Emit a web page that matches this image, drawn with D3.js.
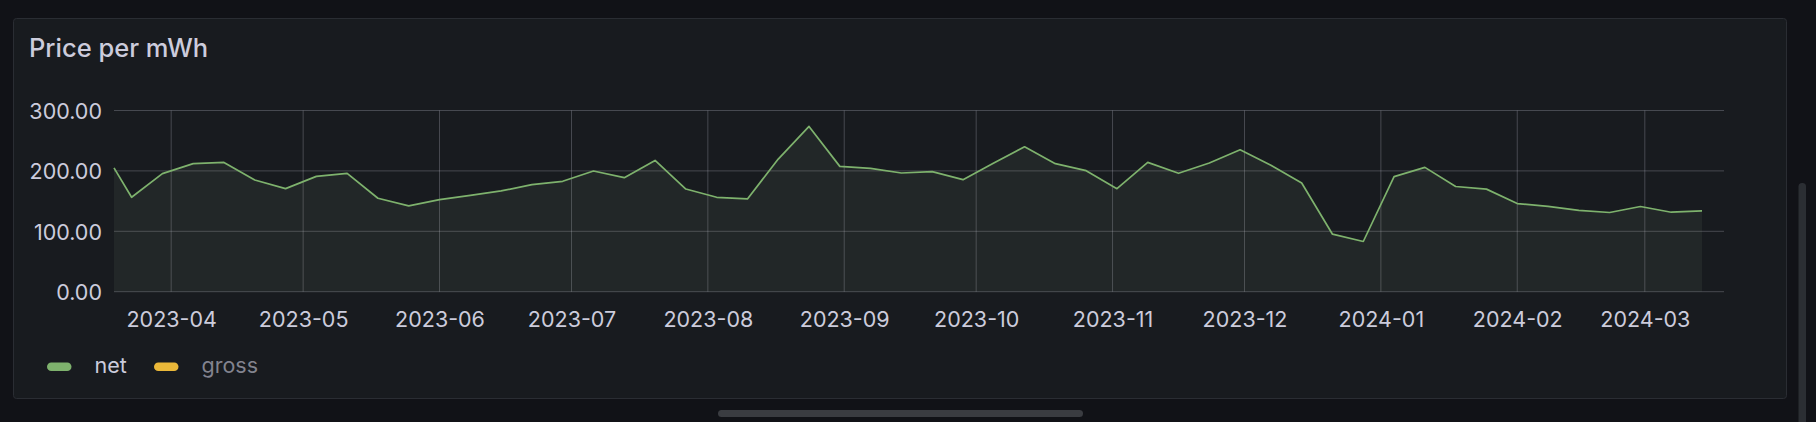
<!DOCTYPE html>
<html><head><meta charset="utf-8">
<script src="https://cdn.jsdelivr.net/npm/d3@7"></script>
<style>
html,body{margin:0;padding:0;background:#111217;overflow:hidden;}
svg{display:block;font-family:Inter,"Noto Sans",sans-serif;}
</style></head><body>
<svg id="c" width="1816" height="422"></svg>
<script>
// ---- data ----
const dates = [
  "2023-03-19","2023-03-23","2023-03-30","2023-04-06","2023-04-13","2023-04-20","2023-04-27",
  "2023-05-04","2023-05-11","2023-05-18","2023-05-25","2023-06-01","2023-06-08","2023-06-15",
  "2023-06-22","2023-06-29","2023-07-06","2023-07-13","2023-07-20","2023-07-27","2023-08-03",
  "2023-08-10","2023-08-17","2023-08-24","2023-08-31","2023-09-07","2023-09-14","2023-09-21",
  "2023-09-28","2023-10-05","2023-10-12","2023-10-19","2023-10-26","2023-11-02","2023-11-09",
  "2023-11-16","2023-11-23","2023-11-30","2023-12-07","2023-12-14","2023-12-21","2023-12-28",
  "2024-01-04","2024-01-11","2024-01-18","2024-01-25","2024-02-01","2024-02-08","2024-02-15",
  "2024-02-22","2024-02-29","2024-03-07","2024-03-14"
];
const netValues = [
  205, 156.3, 195.4, 212, 214, 185, 170.6,
  191, 196, 154.7, 142, 152.5, 159.6, 166.8,
  177.2, 182.8, 199.8, 188.8, 217.4, 170, 156.3,
  153.6, 219.6, 273.6, 207.5, 204.2, 196.5, 198.7,
  185.5, 213, 240, 212, 200.4, 170.6, 214.1,
  196, 213, 235, 209.2, 180, 95.2, 83.1,
  190.5, 205.8, 174.2, 169.8, 145.9, 141.3, 134.6,
  131.1, 141, 131.6, 133.8
];
const timeRange = ["2023-03-19", "2024-03-19"];
const xTickLabels = ["2023-04","2023-05","2023-06","2023-07","2023-08","2023-09",
                     "2023-10","2023-11","2023-12","2024-01","2024-02","2024-03"];
const yTicks = [0, 100, 200, 300];
const legendNames = ["net", "gross"];
const legendColors = ["#7EB26D", "#EAB839"];
const legendActive = [true, false];
const title = "Price per mWh";

// ---- drawing ----
const parse = d3.utcParse("%Y-%m-%d");
const parseM = d3.utcParse("%Y-%m");
const svg = d3.select("#c");

// horizontal page scrollbar
svg.append("rect").attr("x", 718).attr("y", 410).attr("width", 365).attr("height", 7)
  .attr("rx", 3.5).attr("fill", "#3a3c41");
// vertical scrollbar thumb
svg.append("rect").attr("x", 1798.5).attr("y", 183).attr("width", 7.5).attr("height", 260)
  .attr("rx", 3.5).attr("fill", "#2b2e33");

// panel
svg.append("rect").attr("x", 13.5).attr("y", 18.5).attr("width", 1773).attr("height", 380)
  .attr("rx", 3).attr("fill", "#181b1f").attr("stroke", "#2a2d33").attr("stroke-width", 1);

svg.append("text").attr("x", 29).attr("y", 57).text(title)
  .attr("fill", "#ccccdc").attr("font-size", 25.5).attr("font-weight", 500);

const L = 114, R = 1724, T = 110.5, B = 291.7;
const x = d3.scaleUtc().domain(timeRange.map(parse)).range([L, R]);
const y = d3.scaleLinear().domain([0, 300]).range([B, T]);

const grid = "rgba(204,204,220,0.26)";
// horizontal grid + y labels
const ya = svg.append("g").attr("transform", `translate(${L},0)`)
  .call(d3.axisLeft(y).tickValues(yTicks).tickFormat(d3.format(".2f")).tickSize(0).tickPadding(12));
ya.select(".domain").remove();
ya.selectAll("text").attr("fill", "#ccccdc").attr("font-size", 21.5)
  .attr("font-family", "Inter").attr("dy", "0.36em");
svg.append("g").selectAll("line").data(yTicks).join("line")
  .attr("x1", L).attr("x2", R).attr("y1", d => y(d)).attr("y2", d => y(d))
  .attr("stroke", grid).attr("stroke-width", 1);

// vertical grid + x labels
const xTicks = xTickLabels.map(parseM);
const xa = svg.append("g").attr("transform", `translate(0,${B})`)
  .call(d3.axisBottom(x).tickValues(xTicks).tickFormat(d3.utcFormat("%Y-%m")).tickSize(0).tickPadding(20));
xa.select(".domain").remove();
xa.selectAll("text").attr("fill", "#ccccdc").attr("font-size", 21.5)
  .attr("font-family", "Inter").attr("dy", "0.71em");
svg.append("g").selectAll("line").data(xTicks).join("line")
  .attr("x1", d => x(d)).attr("x2", d => x(d)).attr("y1", T).attr("y2", B)
  .attr("stroke", grid).attr("stroke-width", 1);

// series
const pts = dates.map((d, i) => ({ t: parse(d), v: netValues[i] }));
svg.append("path").datum(pts)
  .attr("d", d3.area().x(d => x(d.t)).y0(y(0)).y1(d => y(d.v)))
  .attr("fill", "#8fa88a").attr("fill-opacity", 0.09);
svg.append("path").datum(pts)
  .attr("d", d3.line().x(d => x(d.t)).y(d => y(d.v)))
  .attr("fill", "none").attr("stroke", "#7EB26D").attr("stroke-width", 1.7)
  .attr("stroke-linejoin", "round");

// legend
const lg = svg.append("g");
const legX = [47, 154];
legendNames.forEach((n, i) => {
  lg.append("rect").attr("x", legX[i]).attr("y", 362.5).attr("width", 24.5).attr("height", 8.5)
    .attr("rx", 4.25).attr("fill", legendColors[i]);
  lg.append("text").attr("x", legX[i] + 47.5).attr("y", 372.5).text(n)
    .attr("font-size", 21.5)
    .attr("fill", legendActive[i] ? "#ccccdc" : "rgba(204,204,220,0.6)");
});
</script>
</body></html>
